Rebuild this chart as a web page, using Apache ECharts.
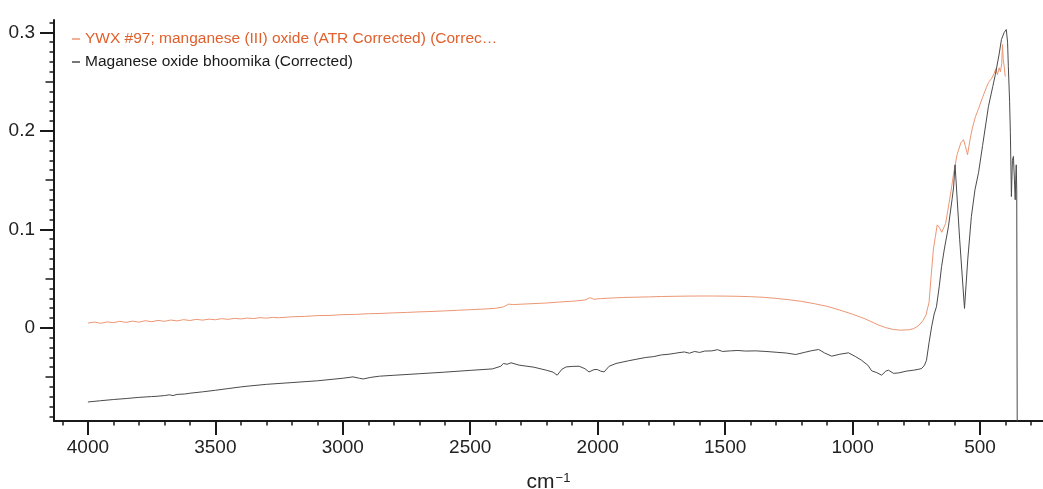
<!DOCTYPE html>
<html>
<head>
<meta charset="utf-8">
<title>IR spectra</title>
<script src="https://cdn.jsdelivr.net/npm/echarts@6/dist/echarts.min.js"></script>
<style>
  html, body { margin: 0; padding: 0; background: #fff; }
  #chart { width: 1043px; height: 489px; }
</style>
</head>
<body>
<div id="chart"></div>
<script>
// series names (legend text)
var nameOrange = 'YWX #97; manganese (III) oxide (ATR Corrected) (Correc\u2026';
var nameBlack = 'Maganese oxide bhoomika (Corrected)';

// reference spectrum: wavenumber (cm-1) / absorbance
var orangeWn = [4000, 3975, 3950, 3925, 3900, 3875, 3850, 3825, 3800, 3775, 3750, 3725, 3700, 3675, 3650, 3625, 3600, 3575, 3550, 3525,
  3500, 3475, 3450, 3425, 3400, 3375, 3350, 3325, 3300, 3275, 3250, 3200, 3150, 3100, 3050, 3000, 2950, 2900, 2850, 2800,
  2750, 2700, 2650, 2600, 2550, 2500, 2450, 2400, 2370, 2350, 2330, 2300, 2250, 2200, 2150, 2100, 2050, 2030, 2015, 1990,
  1950, 1900, 1850, 1800, 1750, 1700, 1650, 1600, 1550, 1500, 1450, 1400, 1350, 1300, 1250, 1200, 1150, 1100, 1050, 1000,
  950, 900, 870, 840, 810, 780, 760, 740, 725, 712, 700, 692, 683, 675, 668, 660, 650, 643, 635, 624,
  612, 604, 590, 575, 565, 557, 549, 540, 530, 518, 505, 490, 475, 467, 455, 445, 438, 432, 425, 420,
  415, 412, 409, 405, 401];
var orangeAbs = [0.0048, 0.0058, 0.0046, 0.0060, 0.0052, 0.0066, 0.0055, 0.0068, 0.0057, 0.0072, 0.0062, 0.0075, 0.0066, 0.0079, 0.0070, 0.0083, 0.0074, 0.0086, 0.0078, 0.0088,
  0.0082, 0.0093, 0.0086, 0.0096, 0.0090, 0.0099, 0.0094, 0.0103, 0.0098, 0.0106, 0.0102, 0.0112, 0.0116, 0.0124, 0.0126, 0.0134, 0.0136, 0.0143, 0.0146, 0.0152,
  0.0156, 0.0162, 0.0166, 0.0172, 0.0178, 0.0184, 0.0190, 0.0198, 0.0212, 0.0240, 0.0236, 0.0240, 0.0246, 0.0252, 0.0262, 0.0270, 0.0282, 0.0306, 0.0290, 0.0296,
  0.0302, 0.0308, 0.0311, 0.0314, 0.0318, 0.0320, 0.0322, 0.0323, 0.0323, 0.0322, 0.0320, 0.0316, 0.0310, 0.0299, 0.0285, 0.0268, 0.0245, 0.0218, 0.0180, 0.0138,
  0.0090, 0.0030, 0.0002, -0.0017, -0.0024, -0.0020, -0.0008, 0.0025, 0.0070, 0.0130, 0.0260, 0.0520, 0.0800, 0.0930, 0.1045, 0.1020, 0.0970, 0.0963, 0.1060, 0.1228,
  0.1420, 0.1560, 0.1760, 0.1880, 0.1910, 0.1840, 0.1757, 0.1900, 0.2030, 0.2143, 0.2230, 0.2340, 0.2440, 0.2490, 0.2530, 0.2580, 0.2630, 0.2570, 0.2640, 0.2600,
  0.2680, 0.2876, 0.2720, 0.2650, 0.2550];

// sample spectrum
var blackWn = [4000, 3950, 3900, 3850, 3800, 3750, 3729, 3700, 3680, 3666, 3650, 3620, 3600, 3550, 3500, 3450, 3400, 3376, 3300, 3200,
  3100, 3000, 2960, 2935, 2920, 2890, 2856, 2800, 2700, 2600, 2500, 2413, 2380, 2370, 2355, 2340, 2308, 2250, 2202, 2175,
  2159, 2140, 2124, 2100, 2073, 2050, 2034, 2015, 2002, 1988, 1975, 1955, 1928, 1880, 1850, 1811, 1780, 1750, 1720, 1700,
  1681, 1660, 1640, 1620, 1600, 1580, 1552, 1530, 1510, 1480, 1450, 1420, 1380, 1340, 1300, 1260, 1223, 1190, 1160, 1133,
  1110, 1082, 1050, 1016, 990, 965, 940, 925, 905, 886, 870, 859, 840, 819, 790, 760, 740, 729, 718, 710,
  700, 690, 680, 671, 660, 651, 640, 624, 610, 604, 598, 580, 561, 548, 534, 520, 506, 490, 467, 450,
  440, 425, 416, 405, 397, 392, 389, 384, 381, 377, 373, 369, 365, 362, 360, 358, 356, 354];
var blackAbs = [-0.0753, -0.0740, -0.0728, -0.0718, -0.0706, -0.0698, -0.0695, -0.0688, -0.0680, -0.0688, -0.0676, -0.0672, -0.0664, -0.0650, -0.0634, -0.0617, -0.0600, -0.0593, -0.0574, -0.0556,
  -0.0538, -0.0512, -0.0498, -0.0512, -0.0519, -0.0503, -0.0491, -0.0482, -0.0466, -0.0450, -0.0432, -0.0417, -0.0390, -0.0362, -0.0370, -0.0355, -0.0379, -0.0400, -0.0430, -0.0450,
  -0.0481, -0.0420, -0.0397, -0.0392, -0.0390, -0.0415, -0.0448, -0.0425, -0.0423, -0.0440, -0.0448, -0.0390, -0.0362, -0.0335, -0.0320, -0.0301, -0.0292, -0.0275, -0.0268, -0.0260,
  -0.0252, -0.0245, -0.0258, -0.0240, -0.0250, -0.0236, -0.0234, -0.0222, -0.0240, -0.0234, -0.0230, -0.0236, -0.0234, -0.0240, -0.0248, -0.0256, -0.0271, -0.0250, -0.0232, -0.0220,
  -0.0255, -0.0288, -0.0268, -0.0254, -0.0290, -0.0329, -0.0380, -0.0437, -0.0455, -0.0481, -0.0440, -0.0430, -0.0462, -0.0458, -0.0440, -0.0430, -0.0420, -0.0413, -0.0380, -0.0329,
  -0.0150, 0.0010, 0.0140, 0.0214, 0.0420, 0.0621, 0.0800, 0.1027, 0.1300, 0.1420, 0.1655, 0.0900, 0.0197, 0.0700, 0.1129, 0.1400, 0.1574, 0.1850, 0.2248, 0.2450,
  0.2570, 0.2780, 0.2927, 0.3000, 0.3028, 0.2900, 0.2655, 0.2300, 0.1980, 0.1333, 0.1700, 0.1740, 0.1500, 0.1300, 0.1500, 0.1655, 0.1400, -0.1200];

// tick positions
var xMajor = [500, 1000, 1500, 2000, 2500, 3000, 3500, 4000];
var xMinor = [300, 400, 600, 700, 800, 900, 1100, 1200, 1300, 1400, 1600, 1700, 1800, 1900, 2100, 2200, 2300, 2400,
  2600, 2700, 2800, 2900, 3100, 3200, 3300, 3400, 3600, 3700, 3800, 3900, 4100];
var yMajor = [0, 0.1, 0.2, 0.3];
var yMid = [-0.05, 0.05, 0.15, 0.25];
var yMinor = [-0.09, -0.08, -0.07, -0.06, -0.04, -0.03, -0.02, -0.01, 0.01, 0.02, 0.03, 0.04, 0.06, 0.07, 0.08, 0.09,
  0.11, 0.12, 0.13, 0.14, 0.16, 0.17, 0.18, 0.19, 0.21, 0.22, 0.23, 0.24, 0.26, 0.27, 0.28, 0.29, 0.31];

var FONT = "'Liberation Sans', Arial, sans-serif";
var AXIS_COLOR = '#1a1a1a';
var X_MIN = 253, X_MAX = 4133;
var Y_MIN = -0.0946, Y_MAX = 0.3125;

function pairs(xs, ys) {
  var out = [];
  for (var i = 0; i < xs.length; i++) out.push([xs[i], ys[i]]);
  return out;
}

function tickAxis(extra) {
  var base = {
    type: 'value',
    axisLine: { show: false, onZero: false },
    axisLabel: { show: false },
    splitLine: { show: false },
    axisTick: { show: true, lineStyle: { color: AXIS_COLOR, width: 1.5 } }
  };
  return echarts.util.merge(base, extra, true);
}

var chart = echarts.init(document.getElementById('chart'), null, { renderer: 'canvas' });

var option = {
  animation: false,
  backgroundColor: '#fff',
  grid: { left: 54, right: 0, top: 20, bottom: 68, containLabel: false, outerBoundsMode: 'none' },
  legend: {
    orient: 'vertical',
    left: 72,
    top: 31,
    padding: 0,
    icon: 'rect',
    itemWidth: 8,
    itemHeight: 1.5,
    itemGap: 7,
    textStyle: { fontFamily: FONT, fontSize: 15.5 },
    data: [
      { name: nameOrange, textStyle: { color: '#e0612d' } },
      { name: nameBlack, textStyle: { color: '#1a1a1a' } }
    ]
  },
  xAxis: [
    {
      type: 'value',
      min: X_MIN,
      max: X_MAX,
      inverse: true,
      position: 'bottom',
      axisLine: { show: true, onZero: false, lineStyle: { color: AXIS_COLOR, width: 2 } },
      axisTick: { show: true, length: 14, customValues: xMajor, lineStyle: { color: AXIS_COLOR, width: 2 } },
      axisLabel: {
        customValues: xMajor, margin: 17, fontSize: 19, color: '#222', fontFamily: FONT,
        formatter: function (v) { return String(v); }
      },
      splitLine: { show: false },
      name: '{b|cm}{s|\u22121}',
      nameLocation: 'middle',
      nameGap: 51,
      nameTextStyle: {
        color: '#222',
        rich: {
          b: { fontSize: 21, fontFamily: FONT, color: '#222' },
          s: { fontSize: 13, fontFamily: FONT, color: '#222', verticalAlign: 'top', padding: [0, 0, 0, 1] }
        }
      }
    },
    tickAxis({ min: X_MIN, max: X_MAX, inverse: true, position: 'bottom', axisTick: { length: 4.5, customValues: xMinor } })
  ],
  yAxis: [
    {
      type: 'value',
      min: Y_MIN,
      max: Y_MAX,
      position: 'left',
      axisLine: { show: true, onZero: false, lineStyle: { color: AXIS_COLOR, width: 2 } },
      axisTick: { show: true, length: 14, customValues: yMajor, lineStyle: { color: AXIS_COLOR, width: 2 } },
      axisLabel: {
        customValues: yMajor, margin: 19, fontSize: 19, color: '#222', fontFamily: FONT,
        formatter: function (v) { return String(v); }
      },
      splitLine: { show: false }
    },
    tickAxis({ min: Y_MIN, max: Y_MAX, position: 'left', axisTick: { length: 8.5, customValues: yMid } }),
    tickAxis({ min: Y_MIN, max: Y_MAX, position: 'left', axisTick: { length: 4.5, customValues: yMinor } })
  ],
  series: [
    {
      name: nameOrange,
      type: 'line',
      xAxisIndex: 0,
      yAxisIndex: 0,
      showSymbol: false,
      symbol: 'none',
      clip: true,
      lineStyle: { color: '#ec9774', width: 1 },
      itemStyle: { color: '#ec9774' },
      data: pairs(orangeWn, orangeAbs)
    },
    {
      name: nameBlack,
      type: 'line',
      xAxisIndex: 0,
      yAxisIndex: 0,
      showSymbol: false,
      symbol: 'none',
      clip: true,
      lineStyle: { color: '#4a4a4a', width: 1 },
      itemStyle: { color: '#4a4a4a' },
      data: pairs(blackWn, blackAbs)
    }
  ]
};

chart.setOption(option);
</script>
</body>
</html>
